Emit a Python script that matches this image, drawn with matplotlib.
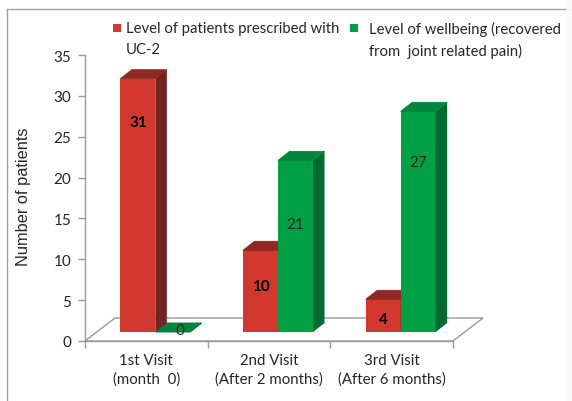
import numpy as np
import matplotlib
matplotlib.use('Agg')
import matplotlib.pyplot as plt
from matplotlib.patches import Polygon, Rectangle

# --- data ---
categories = ["1st Visit\n(month  0)", "2nd Visit\n(After 2 months)", "3rd Visit\n(After 6 months)"]
prescribed = [31, 10, 4]
wellbeing = [0, 21, 27]
series_names = ["Level of patients prescribed with\nUC-2",
                "Level of wellbeing (recovered\nfrom  joint related pain)"]
y_ticks = [0, 5, 10, 15, 20, 25, 30, 35]

# where the value labels sit inside the bars (data units above the bar base)
red_label_y = [25.7, 5.6, 1.6]
green_label_y = [0.25, 13.2, 20.8]

# --- styles ---
RED = ("#D3382F", "#70231F", "#8E2924")      # front, side, top
GREEN = ("#00A044", "#006A33", "#00873D")
GRID = "#9A9A9A"
TXT = "#262626"
CAL = ["Lato", "DejaVu Sans"]

W, H = 572, 402
fig = plt.figure(figsize=(W / 100, H / 100), dpi=100)

# axes box in pixels: x 85..453, y 56..342
L, R, T, B = 85, 453, 56, 342
ax = fig.add_axes([L / W, 1 - B / H, (R - L) / W, (B - T) / H])
ax.set_xlim(-0.5, 2.5)
ax.set_ylim(0, 35)

ux = (R - L) / 3.0      # px per category
uy = (B - T) / 35.0     # px per value unit

# pseudo-3d offsets (pixels -> data units)
fx, fy = 9 / ux, 9 / uy          # bar front face shift from floor front
dx, dy = 11.5 / ux, 9 / uy       # bar depth
Fx, Fy = 30 / ux, 23 / uy        # floor depth
bw = 35 / ux                     # bar width

# floor
floor = Polygon([(-0.5, 0), (2.5, 0), (2.5 + Fx, Fy), (-0.5 + Fx, Fy)],
                closed=True, facecolor="none", edgecolor=GRID, lw=1.0,
                clip_on=False, zorder=1)
ax.add_patch(floor)


def draw_bar(xc, v, cols):
    x0 = xc - bw / 2 + fx
    x1 = xc + bw / 2 + fx
    y0 = fy
    y1 = fy + v
    front, side, top = cols
    if v > 0:
        ax.bar(x0 + bw / 2, v, bw, bottom=y0, color=front, lw=0,
               clip_on=False, zorder=3)
        ax.add_patch(Polygon([(x1, y0), (x1 + dx, y0 + dy), (x1 + dx, y1 + dy), (x1, y1)],
                             closed=True, facecolor=side, lw=0, clip_on=False, zorder=3))
    ax.add_patch(Polygon([(x0, y1), (x1, y1), (x1 + dx, y1 + dy), (x0 + dx, y1 + dy)],
                         closed=True, facecolor=top, edgecolor=side if v == 0 else top,
                         lw=0.6, clip_on=False, zorder=3))


xs = np.arange(len(categories))
for i, xc in enumerate(xs):
    draw_bar(xc - bw / 2, prescribed[i], RED)
    draw_bar(xc + bw / 2, wellbeing[i], GREEN)
    ax.text(xc - bw / 2 + fx, fy + red_label_y[i], str(prescribed[i]), ha="center",
            va="center", fontsize=11, fontweight="bold", color="black",
            family=CAL, zorder=5)
    gx = xc + bw / 2 + fx + (7 / ux if wellbeing[i] == 0 else 0)
    ax.text(gx, fy + green_label_y[i], str(wellbeing[i]), ha="center",
            va="center", fontsize=11, color=TXT, family=CAL, zorder=5)

# axes styling
for s in ["top", "right"]:
    ax.spines[s].set_visible(False)
for s in ["left", "bottom"]:
    ax.spines[s].set_color(GRID)
    ax.spines[s].set_linewidth(1.0)
ax.set_yticks(y_ticks)
ax.set_yticklabels([str(t) for t in y_ticks], family=CAL, fontsize=11, color=TXT)
ax.tick_params(axis="y", length=5, width=1, color=GRID, pad=5)
ax.set_xticks(xs)
ax.set_xticklabels(categories, family=CAL, fontsize=10.8, color=TXT, linespacing=1.35)
ax.tick_params(axis="x", which="major", length=0, pad=9)
ax.set_xticks([-0.5, 0.5, 1.5, 2.5], minor=True)
ax.tick_params(axis="x", which="minor", length=5, width=1, color=GRID)
ax.set_ylabel("Number of patients", family=["Liberation Sans", "DejaVu Sans"],
              fontsize=11.8, color=TXT, va="center")
ax.yaxis.set_label_coords((23 - L) / (R - L), (B - 197) / (B - T))

# legend (squares + two-line labels)
for (sx, tx), name, col in zip([(113, 126), (350, 369)], series_names, [RED[0], GREEN[0]]):
    fig.patches.append(Rectangle((sx / W, 1 - 33 / H), 8 / W, 8 / H,
                                 transform=fig.transFigure, facecolor=col, lw=0))
    fig.text(tx / W, 1 - 22 / H, name, ha="left", va="top", family=CAL,
             fontsize=10.7, color=TXT, linespacing=1.6)

# outer frame of the original picture
fig.add_artist(plt.Line2D([7 / W, 1], [1 - 10 / H, 1 - 10 / H], transform=fig.transFigure,
                          color="#A0A0A0", lw=1))
fig.add_artist(plt.Line2D([7 / W, 7 / W], [0, 1 - 10 / H], transform=fig.transFigure,
                          color="#A0A0A0", lw=1))
fig.add_artist(plt.Line2D([1 - 3 / W, 1 - 3 / W], [0, 1], transform=fig.transFigure,
                          color="#F8F8F8", lw=4))

fig.savefig("out.png", dpi=100)
